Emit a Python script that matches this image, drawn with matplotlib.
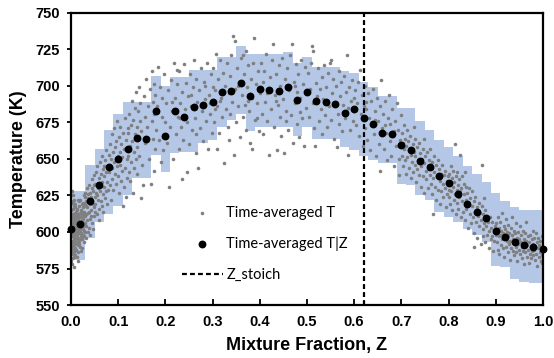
import numpy as np
import matplotlib.pyplot as plt

# conditional mean T|Z, one point per mixture-fraction bin
z_bins = [0.00, 0.02, 0.04, 0.06, 0.08, 0.10, 0.12, 0.14, 0.16, 0.18,
          0.20, 0.22, 0.24, 0.26, 0.28, 0.30, 0.32, 0.34, 0.36, 0.38,
          0.40, 0.42, 0.44, 0.46, 0.48, 0.50, 0.52, 0.54, 0.56, 0.58,
          0.60, 0.62, 0.64, 0.66, 0.68, 0.70, 0.72, 0.74, 0.76, 0.78,
          0.80, 0.82, 0.84, 0.86, 0.88, 0.90, 0.92, 0.94, 0.96, 0.98, 1.00]
T_cond = [602.0, 605.5, 621.0, 632.4, 644.3, 649.8, 656.6, 664.4, 663.7, 682.7,
          666.0, 682.7, 679.0, 685.4, 687.0, 689.0, 696.0, 696.6, 702.0, 693.0,
          697.7, 697.3, 696.4, 699.0, 690.4, 696.0, 689.5, 688.8, 687.7, 681.3,
          684.0, 677.9, 674.0, 668.0, 667.0, 659.4, 656.0, 648.8, 644.7, 638.4,
          633.6, 626.0, 619.4, 613.9, 609.4, 601.0, 596.8, 593.2, 590.9, 590.0, 588.4]

# shaded band (upper / lower bound per bin)
T_upper = [628, 628, 646, 657, 670, 681, 689, 689, 689, 707,
           700, 706, 706, 711, 711, 711, 720, 720, 727, 722,
           722, 722, 722, 723, 716, 720, 713, 713, 713, 710,
           709, 703, 699, 693, 693, 685, 685, 676, 670, 663,
           658, 652, 645, 640, 634, 627, 621, 617, 615, 615, 615]
T_lower = [581, 581, 596, 607, 612, 618, 625, 637, 637, 653,
           641, 654, 655, 655, 661, 663, 672, 677, 681, 669,
           672, 672, 672, 672, 666, 672, 664, 664, 664, 658,
           656, 652, 649, 647, 647, 633, 632, 625, 622, 614,
           610, 607, 602, 598, 593, 577, 576, 568, 566, 565, 565]

z_stoich = 0.62

# time-averaged T samples (Z, T)
scatter_pts = np.array([
    # Z 0.00 - 0.01
    (0.001,598),(0.002,605),(0.003,590),(0.004,612),(0.005,585),(0.006,601),(0.007,594),(0.008,617),(0.009,608),(0.010,596),
    (0.001,615),(0.002,588),(0.003,620),(0.004,599),(0.005,607),(0.006,583),(0.007,611),(0.008,592),(0.009,603),(0.010,614),
    (0.001,580),(0.002,610),(0.003,597),(0.004,625),(0.005,593),(0.006,618),(0.007,586),(0.008,600),(0.009,589),(0.010,606),
    (0.002,578),(0.003,604),(0.004,591),(0.005,616),(0.006,596),(0.007,622),(0.008,584),(0.009,613),(0.010,601),(0.001,609),
    (0.002,594),(0.003,612),(0.004,582),(0.005,600),(0.006,609),(0.007,598),(0.008,606),(0.009,595),(0.003,628),(0.005,621),
    (0.004,587),(0.006,590),(0.008,611),(0.002,601),(0.007,604),(0.009,619),(0.001,592),(0.010,588),(0.006,576),(0.004,606),
    # Z 0.01 - 0.03
    (0.011,599),(0.012,607),(0.013,593),(0.014,612),(0.015,602),(0.016,596),(0.017,618),(0.018,604),(0.019,590),(0.020,610),
    (0.021,599),(0.022,615),(0.023,605),(0.024,596),(0.025,620),(0.026,609),(0.027,601),(0.028,614),(0.029,624),(0.030,606),
    (0.011,588),(0.012,616),(0.013,604),(0.014,595),(0.015,611),(0.016,622),(0.017,600),(0.018,592),(0.019,613),(0.020,603),
    (0.021,587),(0.022,597),(0.023,619),(0.024,608),(0.025,598),(0.026,617),(0.027,593),(0.028,606),(0.029,611),(0.030,619),
    (0.012,583),(0.014,603),(0.016,609),(0.018,621),(0.020,595),(0.022,606),(0.024,614),(0.026,602),(0.028,597),(0.030,627),
    (0.011,610),(0.013,598),(0.015,591),(0.017,607),(0.019,601),(0.021,612),(0.023,595),(0.025,604),(0.027,612),(0.029,600),
    (0.013,615),(0.015,586),(0.017,594),(0.019,622),(0.021,605),(0.023,589),(0.025,611),(0.027,625),(0.014,580),(0.018,599),
    # Z 0.03 - 0.05
    (0.031,612),(0.032,604),(0.033,621),(0.034,608),(0.035,617),(0.036,626),(0.037,600),(0.038,614),(0.039,632),(0.040,619),
    (0.041,609),(0.042,624),(0.043,615),(0.044,636),(0.045,606),(0.046,628),(0.047,619),(0.048,611),(0.049,639),(0.050,624),
    (0.032,596),(0.034,630),(0.036,613),(0.038,603),(0.040,627),(0.042,611),(0.044,620),(0.046,602),(0.048,632),(0.050,614),
    (0.033,618),(0.037,623),(0.041,598),(0.045,630),(0.049,617),
    # Z 0.05 - 0.08
    (0.051,633),(0.052,619),(0.053,641),(0.054,627),(0.055,612),(0.056,645),(0.057,630),(0.058,622),(0.059,637),(0.060,616),
    (0.061,648),(0.062,628),(0.063,640),(0.064,621),(0.065,634),(0.066,652),(0.067,626),(0.068,643),(0.069,614),(0.070,638),
    (0.071,631),(0.072,649),(0.073,623),(0.074,641),(0.075,656),(0.076,634),(0.077,619),(0.078,646),(0.079,629),(0.080,653),
    (0.055,625),(0.060,608),(0.065,618),(0.070,645),(0.075,628),
    # Z 0.08 - 0.12
    (0.081,641),(0.082,660),(0.083,632),(0.084,650),(0.085,622),(0.086,644),(0.087,667),(0.088,636),(0.089,655),(0.090,629),
    (0.091,648),(0.092,671),(0.093,640),(0.094,658),(0.095,633),(0.096,662),(0.097,645),(0.098,676),(0.099,652),(0.100,638),
    (0.101,665),(0.102,627),(0.103,655),(0.104,646),(0.105,672),(0.106,635),(0.107,660),(0.108,651),(0.109,642),(0.110,668),
    (0.112,631),(0.113,657),(0.114,678),(0.115,644),(0.116,624),(0.117,663),(0.118,650),(0.119,637),(0.120,671),(0.111,618),
    # Z 0.12 - 0.20
    (0.121,652),(0.122,668),(0.123,641),(0.124,681),(0.125,659),(0.126,635),(0.127,673),(0.128,648),(0.129,690),(0.130,662),
    (0.131,627),(0.132,677),(0.133,655),(0.134,644),(0.135,685),(0.136,667),(0.137,650),(0.138,696),(0.139,672),(0.140,658),
    (0.141,640),(0.142,683),(0.143,664),(0.144,699),(0.145,652),(0.146,676),(0.147,688),(0.148,623),(0.149,669),(0.150,646),
    (0.152,632),(0.154,693),(0.156,679),(0.158,661),(0.160,705),(0.162,672),(0.164,686),(0.166,650),(0.168,698),(0.170,633),
    (0.171,676),(0.172,710),(0.173,664),(0.174,689),(0.175,642),(0.176,701),(0.177,681),(0.178,657),(0.179,694),(0.180,670),
    (0.182,686),(0.184,713),(0.186,663),(0.188,699),(0.190,648),(0.192,679),(0.194,692),(0.196,656),(0.198,708),(0.200,675),
    # Z 0.20 - 0.30
    (0.202,688),(0.204,661),(0.206,697),(0.208,631),(0.210,672),(0.212,704),(0.214,683),(0.216,650),(0.218,716),(0.220,692),
    (0.222,667),(0.224,701),(0.226,679),(0.228,657),(0.230,710),(0.232,688),(0.234,672),(0.235,636),(0.236,696),(0.238,663),
    (0.240,715),(0.242,684),(0.244,702),(0.245,641),(0.246,675),(0.248,693),(0.250,660),(0.252,708),(0.254,686),(0.256,670),
    (0.258,699),(0.260,718),(0.262,678),(0.264,654),(0.266,705),(0.268,689),(0.270,644),(0.272,697),(0.274,671),(0.276,712),
    (0.278,683),(0.280,662),(0.282,703),(0.284,691),(0.286,676),(0.288,716),(0.290,657),(0.292,694),(0.294,681),(0.296,708),
    (0.298,668),(0.300,699),(0.215,689),(0.225,711),(0.255,694),(0.265,667),(0.285,700),(0.295,688),(0.275,686),(0.231,678),
    # Z 0.30 - 0.40
    (0.302,712),(0.304,675),(0.306,697),(0.308,722),(0.309,657),(0.310,686),(0.312,705),(0.314,668),(0.316,718),(0.318,692),
    (0.320,679),(0.322,709),(0.324,647),(0.326,700),(0.328,684),(0.330,716),(0.332,672),(0.334,695),(0.336,707),(0.338,681),
    (0.340,721),(0.342,689),(0.343,734),(0.345,653),(0.347,731),(0.348,698),(0.350,675),(0.352,712),(0.354,686),(0.356,703),
    (0.358,665),(0.360,719),(0.362,694),(0.364,679),(0.366,708),(0.368,687),(0.370,724),(0.372,670),(0.374,699),(0.376,714),
    (0.378,683),(0.380,661),(0.382,705),(0.383,657),(0.384,692),(0.386,716),(0.388,733),(0.390,677),(0.392,701),(0.394,688),
    (0.396,710),(0.398,669),(0.400,695),(0.315,690),(0.335,663),(0.355,700),(0.365,721),(0.375,690),(0.395,678),(0.305,684),
    # Z 0.40 - 0.50
    (0.402,716),(0.404,681),(0.406,703),(0.408,667),(0.410,710),(0.412,689),(0.414,722),(0.416,676),(0.418,698),(0.420,653),
    (0.422,706),(0.424,684),(0.426,718),(0.428,729),(0.430,672),(0.432,694),(0.434,708),(0.436,656),(0.438,687),(0.440,714),
    (0.442,679),(0.444,700),(0.446,666),(0.448,719),(0.450,691),(0.452,654),(0.454,705),(0.456,683),(0.458,712),(0.460,670),
    (0.462,697),(0.464,721),(0.466,680),(0.468,729),(0.470,661),(0.472,703),(0.474,688),(0.476,715),(0.478,674),(0.480,696),
    (0.482,708),(0.484,665),(0.486,692),(0.488,718),(0.490,678),(0.492,701),(0.494,659),(0.496,713),(0.498,685),(0.500,697),
    (0.415,695),(0.435,690),(0.455,676),(0.475,700),(0.485,682),
    # Z 0.50 - 0.60
    (0.502,709),(0.504,679),(0.506,698),(0.508,716),(0.510,727),(0.512,688),(0.513,724),(0.515,671),(0.517,659),(0.519,702),
    (0.521,693),(0.523,712),(0.525,676),(0.527,698),(0.529,684),(0.531,706),(0.533,667),(0.535,691),(0.537,714),(0.539,680),
    (0.541,699),(0.543,672),(0.545,709),(0.547,686),(0.549,716),(0.550,718),(0.552,677),(0.554,695),(0.556,705),(0.558,664),
    (0.560,689),(0.562,700),(0.563,658),(0.565,681),(0.567,710),(0.569,674),(0.571,693),(0.573,703),(0.575,669),(0.577,687),
    (0.579,707),(0.581,678),(0.583,696),(0.585,721),(0.586,653),(0.588,685),(0.590,699),(0.592,670),(0.594,690),(0.596,704),
    (0.598,676),(0.600,692),
    # Z 0.60 - 0.70
    (0.602,697),(0.604,673),(0.606,688),(0.608,703),(0.610,666),(0.612,711),(0.614,681),(0.616,694),(0.618,659),(0.620,686),
    (0.622,700),(0.624,671),(0.626,689),(0.628,663),(0.630,695),(0.632,678),(0.634,656),(0.636,690),(0.638,674),(0.640,698),
    (0.642,667),(0.644,683),(0.646,652),(0.648,692),(0.650,676),(0.652,660),(0.654,686),(0.655,642),(0.657,704),(0.659,671),
    (0.661,681),(0.663,657),(0.665,690),(0.667,668),(0.669,649),(0.671,678),(0.673,694),(0.675,662),(0.677,674),(0.679,652),
    (0.681,684),(0.683,666),(0.685,645),(0.687,676),(0.689,659),(0.691,688),(0.693,670),(0.695,650),(0.697,663),(0.699,680),
    (0.625,684),(0.645,677),(0.665,673),(0.685,669),(0.695,639),
    # Z 0.70 - 0.80
    (0.701,668),(0.702,652),(0.703,661),(0.704,645),(0.705,673),(0.706,657),(0.707,649),(0.708,664),(0.709,640),(0.710,659),
    (0.712,670),(0.713,651),(0.714,662),(0.716,644),(0.717,656),(0.718,666),(0.720,637),(0.721,653),(0.722,648),(0.724,660),
    (0.725,641),(0.726,655),(0.728,664),(0.729,646),(0.730,652),(0.732,634),(0.733,658),(0.734,643),(0.736,649),(0.737,661),
    (0.738,639),(0.740,654),(0.741,645),(0.742,631),(0.744,650),(0.745,657),(0.746,638),(0.748,647),(0.749,627),(0.750,652),
    (0.752,642),(0.753,636),(0.754,655),(0.756,645),(0.757,630),(0.758,649),(0.760,639),(0.761,657),(0.762,633),(0.764,644),
    (0.765,626),(0.766,648),(0.768,637),(0.769,652),(0.770,641),(0.772,631),(0.773,646),(0.774,622),(0.776,638),(0.777,649),
    (0.778,629),(0.780,643),(0.781,635),(0.782,619),(0.784,640),(0.785,628),(0.786,646),(0.788,633),(0.789,624),(0.790,639),
    (0.792,630),(0.793,642),(0.794,617),(0.796,635),(0.797,626),(0.798,638),(0.800,629),(0.727,672),(0.747,664),(0.767,612),
    # Z 0.80 - 0.90
    (0.801,640),(0.802,624),(0.803,633),(0.804,619),(0.805,645),(0.806,628),(0.807,637),(0.808,615),(0.809,631),(0.810,642),
    (0.811,622),(0.812,634),(0.813,660),(0.814,626),(0.815,638),(0.816,612),(0.817,629),(0.818,641),(0.819,620),(0.820,632),
    (0.821,616),(0.822,636),(0.823,624),(0.824,653),(0.825,628),(0.826,610),(0.827,630),(0.828,621),(0.829,638),(0.830,614),
    (0.832,626),(0.833,633),(0.834,608),(0.836,622),(0.837,631),(0.838,616),(0.840,627),(0.841,603),(0.842,619),(0.844,630),
    (0.845,612),(0.846,623),(0.848,606),(0.849,618),(0.850,628),(0.852,610),(0.853,621),(0.854,599),(0.856,614),(0.857,624),
    (0.858,607),(0.860,617),(0.861,596),(0.862,611),(0.864,620),(0.865,604),(0.866,613),(0.868,592),(0.869,608),(0.870,618),
    (0.871,646),(0.872,602),(0.873,612),(0.874,597),(0.876,606),(0.877,615),(0.878,593),(0.880,604),(0.881,611),(0.882,598),
    (0.884,607),(0.885,589),(0.886,601),(0.888,610),(0.889,595),(0.890,603),(0.892,597),(0.893,607),(0.894,587),(0.896,600),
    (0.897,594),(0.898,604),(0.900,598),(0.835,641),(0.855,590),(0.875,623),
    # Z 0.90 - 1.00
    (0.901,606),(0.902,593),(0.903,600),(0.904,588),(0.905,610),(0.906,597),(0.907,603),(0.908,585),(0.909,598),(0.910,607),
    (0.911,591),(0.912,601),(0.913,595),(0.914,613),(0.915,589),(0.916,599),(0.917,604),(0.918,583),(0.919,596),(0.920,602),
    (0.921,590),(0.922,609),(0.923,594),(0.924,600),(0.925,586),(0.926,597),(0.927,605),(0.928,592),(0.929,599),(0.930,581),
    (0.931,594),(0.932,603),(0.933,589),(0.934,598),(0.935,610),(0.936,587),(0.937,595),(0.938,601),(0.939,584),(0.940,593),
    (0.941,599),(0.942,590),(0.943,606),(0.944,586),(0.945,596),(0.946,580),(0.947,592),(0.948,600),(0.949,588),(0.950,595),
    (0.951,604),(0.952,585),(0.953,593),(0.954,598),(0.955,582),(0.956,590),(0.957,601),(0.958,587),(0.959,595),(0.960,578),
    (0.961,592),(0.962,599),(0.963,586),(0.964,594),(0.965,607),(0.966,583),(0.967,591),(0.968,597),(0.969,588),(0.970,579),
    (0.971,593),(0.972,585),(0.973,598),(0.974,590),(0.975,582),(0.976,595),(0.977,587),(0.978,601),(0.979,584),(0.980,592),
    (0.981,588),(0.982,596),(0.983,581),(0.984,590),(0.985,599),(0.986,585),(0.987,593),(0.988,577),(0.989,589),(0.990,596),
    (0.991,583),(0.992,591),(0.993,586),(0.994,594),(0.995,580),(0.996,588),(0.997,597),(0.998,584),(0.999,590),(0.999,579),
])
scatter_z = scatter_pts[:, 0]
scatter_T = scatter_pts[:, 1]

x_ticks = [0.0, 0.1, 0.2, 0.3, 0.4, 0.5, 0.6, 0.7, 0.8, 0.9, 1.0]
y_ticks = [550, 575, 600, 625, 650, 675, 700, 725, 750]

fig = plt.figure(figsize=(5.54, 3.58), dpi=100)
ax = fig.add_axes([0.128, 0.148, 0.852, 0.816])

# band, scatter, conditional mean, stoichiometric line
ax.fill_between(z_bins, T_lower, T_upper, step='mid', color='#b4c7e7', linewidth=0, zorder=1)
ax.scatter(scatter_z, scatter_T, s=6.5, color='#7f7f7f', linewidths=0, zorder=2,
           label='Time-averaged T')
ax.scatter(z_bins, T_cond, s=32, color='black', linewidths=0, zorder=3, clip_on=False,
           label='Time-averaged T|Z')
ax.axvline(z_stoich, color='black', lw=1.6, linestyle=(0, (2.2, 1.4)), zorder=4,
           label='Z_stoich')

ax.set_xlim(0, 1)
ax.set_ylim(550, 750)
ax.set_xticks(x_ticks)
ax.set_yticks(y_ticks)
ax.set_xticklabels([f'{t:.1f}' for t in x_ticks])

for lab in ax.get_xticklabels() + ax.get_yticklabels():
    lab.set_fontfamily('Liberation Sans')
    lab.set_fontweight('bold')
    lab.set_fontsize(10.5)

ax.tick_params(axis='x', direction='in', length=4, width=1.3, pad=7)
ax.tick_params(axis='y', direction='out', length=3, width=1.3, pad=5)
for sp in ax.spines.values():
    sp.set_linewidth(1.6)
    sp.set_color('black')

ax.set_xlabel('Mixture Fraction, Z', fontfamily='Liberation Sans', fontweight='bold',
              fontsize=13, labelpad=6)
ax.set_ylabel('Temperature (K)', fontfamily='Liberation Sans', fontweight='bold',
              fontsize=13, labelpad=6)

ax.legend(loc='upper left', bbox_to_anchor=(0.235, 0.34), frameon=False,
          prop={'family': 'Lato', 'size': 10.5}, handlelength=2.8, handletextpad=0.25,
          labelspacing=1.15, borderpad=0, borderaxespad=0, markerscale=1)

fig.savefig('out.png', dpi=100)
